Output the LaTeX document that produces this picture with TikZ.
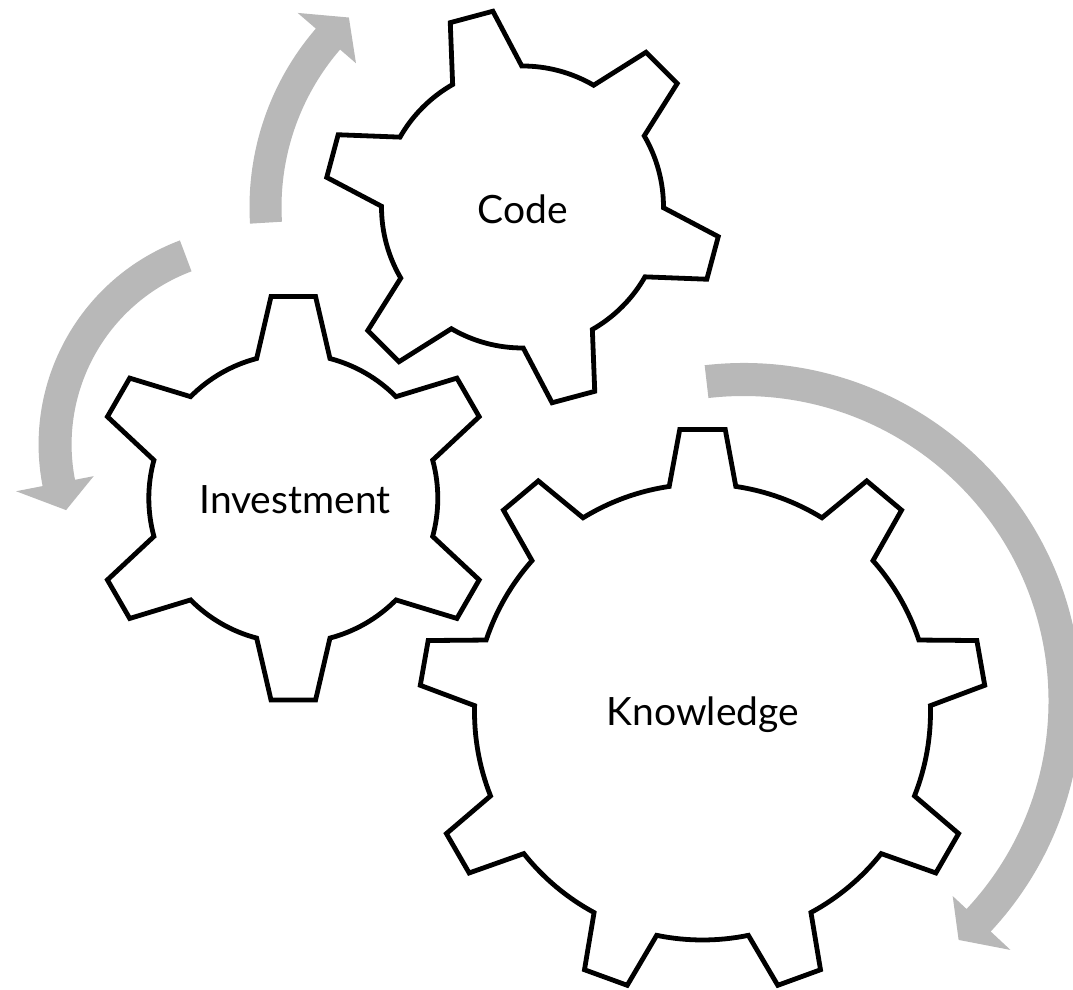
\documentclass[tikz,border=0pt]{standalone}
\usepackage{fontspec}
\setmainfont{Lato}
\definecolor{arrowgray}{RGB}{184,184,184}
\tikzset{
  gearline/.style={draw=black, line width=4.8pt, fill=white, line join=miter},
  cyclearrow/.style={fill=arrowgray, draw=none},
  gearlabel/.style={font=\fontsize{39}{41}\selectfont, inner sep=0pt, anchor=base}
}
% #1 cx, #2 cy, #3 teeth, #4 first tooth angle, #5 body radius, #6 tip radius, #7 base half angle, #8 tip half angle
\newcommand{\drawgear}[8]{%
  \begin{scope}[shift={(#1,#2)}]
    \pgfmathsetmacro{\gstep}{360/#3}
    \pgfmathtruncatemacro{\nlast}{#3-1}
    \draw[gearline] ({#4-#7}:#5pt)
      \foreach \k in {0,...,\nlast}{
        -- ({#4+\k*\gstep-#8}:#6pt) -- ({#4+\k*\gstep+#8}:#6pt) -- ({#4+\k*\gstep+#7}:#5pt)
        arc[start angle={#4+\k*\gstep+#7}, delta angle={\gstep-2*#7}, radius=#5pt]
      } -- cycle;
  \end{scope}}
% #1 cx, #2 cy, #3 tail angle, #4 head base angle, #5 tip angle, #6 inner r, #7 outer r, #8 inner barb r, #9 outer barb r
\newcommand{\drawcarrow}[9]{%
  \begin{scope}[shift={(#1,#2)}]
    \pgfmathsetmacro{\rmid}{(#6+#7)/2}
    \fill[cyclearrow] (#3:#7pt) arc[start angle=#3, end angle=#4, radius=#7pt]
      -- (#4:#9pt) -- (#5:\rmid pt) -- (#4:#8pt) -- (#4:#6pt)
      arc[start angle=#4, end angle=#3, radius=#6pt] -- cycle;
  \end{scope}}
\begin{document}
\begin{tikzpicture}[x=1pt, y=1pt]
  \clip (0,0) rectangle (1073,990);
  \fill[white] (0,0) rectangle (1073,990);
  % circular arrows
  \drawcarrow{522.5}{783}{183.5}{139.2}{132.5}{241}{273}{220}{297}
  \drawcarrow{256.6}{545.5}{110.6}{191}{199}{185}{218}{166}{245}
  \drawcarrow{743.5}{289}{96.6}{-43}{-48}{305}{338}{286}{365}
  % gears
  \drawgear{522.5}{783}{6}{105}{141}{198}{14.7}{6.4}
  \drawgear{293.3}{491.7}{6}{90}{144.5}{203}{14.7}{6.3}
  \drawgear{702.5}{278}{9}{10}{228}{283.5}{8.4}{4.6}
  % labels
  \node[gearlabel] (code) at (522.5,766.7) {Code};
  \node[gearlabel] (invest) at (295,476.7) {Investment};
  \node[gearlabel] (know) at (703,264) {Knowledge};
\end{tikzpicture}
\end{document}
